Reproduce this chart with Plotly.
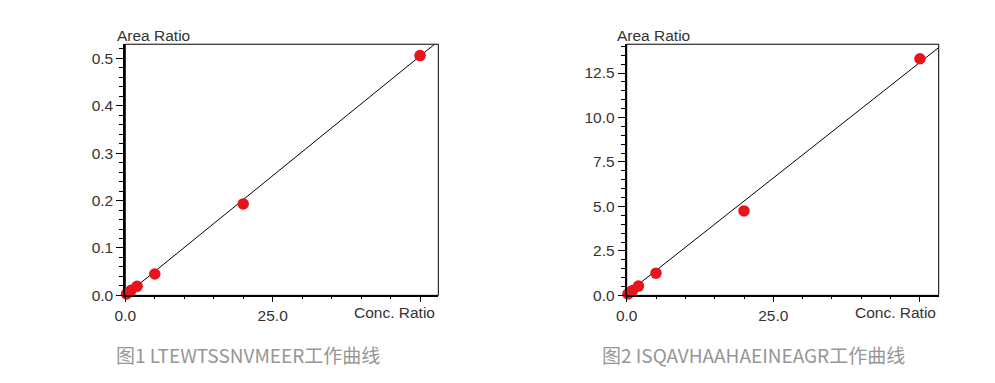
import plotly.graph_objects as go

W, H = 995, 383
OFF = 8  # page body margin offset

# ---- data ----
conc1 = [0.2, 0.5, 1, 2, 5, 20, 50]
area1 = [0.003, 0.006, 0.011, 0.019, 0.045, 0.193, 0.506]
fit1_slope, fit1_intercept = 0.0101, 0.0

conc2 = [0.2, 0.5, 1, 2, 5, 20, 50]
area2 = [0.08, 0.15, 0.28, 0.52, 1.25, 4.75, 13.3]
fit2_slope, fit2_intercept = 0.26, 0.1

x_tickvals = [0, 25, 50]
x_ticktext = ["0.0", "25.0", ""]
captions = ["图1 LTEWTSSNVMEER工作曲线", "图2 ISQAVHAAHAEINEAGR工作曲线"]

xrange1 = [0, 53.1]
xrange2 = [0, 53.2]
yrange1 = [0, 0.53]
yrange2 = [0, 14.12]

# ---- layout geometry (target pixels in the final screenshot) ----
def px_x(p):
    return (p - OFF) / W

def px_y(p):
    return 1 - (p - OFF) / H

top_px, bot_px = 45, 301.5
dom1 = [px_x(115.5), px_x(432)]
dom2 = [px_x(622.5), px_x(938)]
ydom = [px_y(bot_px), px_y(top_px)]

RED = "#e8141c"
AX_FONT = dict(family="Liberation Sans, Arial, sans-serif", size=15.5, color="#333333")

fig = go.Figure()

for i, (cx, ay, sl, ic, xr) in enumerate(
    [(conc1, area1, fit1_slope, fit1_intercept, xrange1),
     (conc2, area2, fit2_slope, fit2_intercept, xrange2)]):
    xa = "x" if i == 0 else "x2"
    ya = "y" if i == 0 else "y2"
    lx = [0, xr[1]]
    ly = [ic + sl * v for v in lx]
    fig.add_trace(go.Scatter(x=lx, y=ly, mode="lines",
                             line=dict(color="black", width=1),
                             xaxis=xa, yaxis=ya, showlegend=False, hoverinfo="skip"))
    fig.add_trace(go.Scatter(x=cx, y=ay, mode="markers",
                             marker=dict(color=RED, size=11.5, line=dict(width=0)),
                             xaxis=xa, yaxis=ya, showlegend=False, cliponaxis=False))

def xaxis_cfg(dom, rng, anchor):
    return dict(domain=dom, range=rng, anchor=anchor,
                tickmode="array", tickvals=x_tickvals, ticktext=x_ticktext,
                ticks="outside", ticklen=5, tickwidth=1, tickcolor="black",
                minor=dict(tickmode="linear", tick0=0, dtick=5, ticks="outside",
                           ticklen=2, tickwidth=1, tickcolor="black"),
                showline=True, linewidth=2, linecolor="black",
                showgrid=False, zeroline=False, tickfont=AX_FONT, fixedrange=True)

def yaxis_cfg(rng, anchor, dtick, minor_dtick):
    return dict(domain=ydom, range=rng, anchor=anchor,
                tickmode="linear", tick0=0, dtick=dtick, tickformat=".1f",
                ticks="outside", ticklen=7, tickwidth=1, tickcolor="black",
                minor=dict(tickmode="linear", tick0=0, dtick=minor_dtick, ticks="outside",
                           ticklen=4, tickwidth=1, tickcolor="black"),
                showline=True, linewidth=2, linecolor="black",
                showgrid=False, zeroline=False, tickfont=AX_FONT, fixedrange=True)

fig.update_layout(
    width=W, height=H, autosize=False,
    margin=dict(l=0, r=0, t=0, b=0),
    paper_bgcolor="white", plot_bgcolor="white",
    xaxis=xaxis_cfg(dom1, xrange1, "y"),
    yaxis=yaxis_cfg(yrange1, "x", 0.1, 0.02),
    xaxis2=xaxis_cfg(dom2, xrange2, "y2"),
    yaxis2=yaxis_cfg(yrange2, "x2", 2.5, 0.5),
)

# plot boxes (thin top/right)
for xr_, yr_ in [("x domain", "y domain"), ("x2 domain", "y2 domain")]:
    fig.add_shape(type="rect", xref=xr_, yref=yr_, x0=0, x1=1, y0=0, y1=1,
                  line=dict(color="black", width=1), layer="below")

# axis titles
for left_px, right_px in [(105, 431), (611, 937)]:
    fig.add_annotation(text="Area Ratio", xref="paper", yref="paper",
                       x=px_x(left_px), y=px_y(36), xanchor="left", yanchor="middle",
                       showarrow=False, font=AX_FONT)
    fig.add_annotation(text="Conc. Ratio", xref="paper", yref="paper",
                       x=px_x(right_px), y=px_y(319), xanchor="right", yanchor="middle",
                       showarrow=False, font=AX_FONT)

# captions
for txt, left_px in zip(captions, [104, 595]):
    fig.add_annotation(text=txt, xref="paper", yref="paper",
                       x=px_x(left_px), y=px_y(362), xanchor="left", yanchor="middle",
                       showarrow=False,
                       font=dict(family="Noto Sans CJK SC, Noto Sans, sans-serif",
                                 size=19, color="#969696"))

fig.write_html("out.html")
